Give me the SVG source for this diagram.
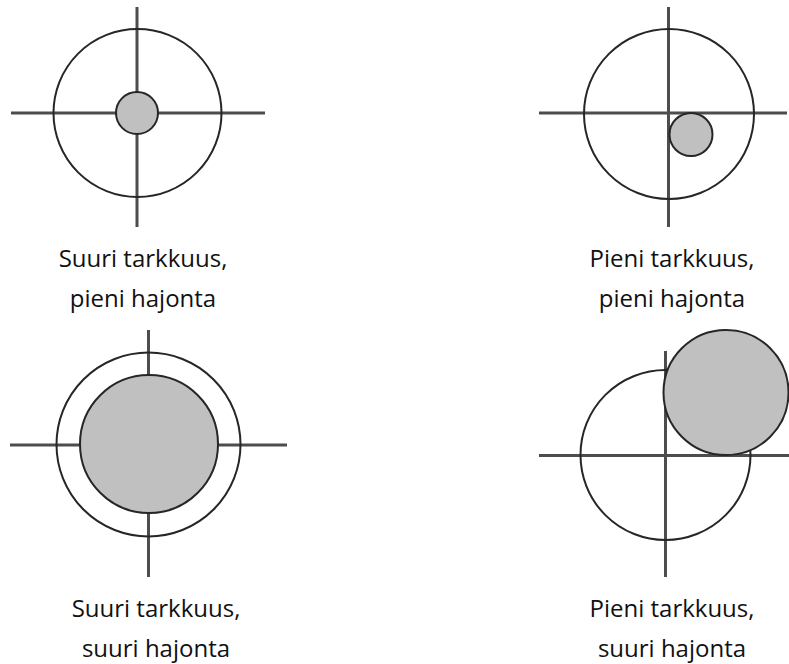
<svg xmlns="http://www.w3.org/2000/svg" width="789" height="664" viewBox="0 0 789 664">
<style>
.axis{stroke:#4d4d4d;stroke-width:3;fill:none}
.ring{stroke:#262626;stroke-width:2;fill:none}
.spot{stroke:#262626;stroke-width:2;fill:#c0c0c0}
.lbl{font-family:"Open Sans","Liberation Sans",sans-serif;font-size:24px;fill:#111;text-anchor:middle}
</style>
<rect width="789" height="664" fill="#fff"/>
<g id="target1">
<line class="axis" x1="137" y1="7" x2="137" y2="227"/>
<line class="axis" x1="11" y1="113" x2="265" y2="113"/>
<circle class="ring" cx="137.5" cy="113" r="84"/>
<circle class="spot" cx="137" cy="113" r="21"/>
<text class="lbl" x="143" y="267">Suuri tarkkuus,</text>
<text class="lbl" x="143" y="307">pieni hajonta</text>
</g>
<g id="target2">
<line class="axis" x1="668.5" y1="7" x2="668.5" y2="227"/>
<line class="axis" x1="539" y1="113" x2="787" y2="113"/>
<circle class="ring" cx="669" cy="114" r="85"/>
<circle class="spot" cx="691" cy="134.5" r="21.5"/>
<text class="lbl" x="672" y="267">Pieni tarkkuus,</text>
<text class="lbl" x="672" y="307">pieni hajonta</text>
</g>
<g id="target3">
<line class="axis" x1="148.5" y1="330" x2="148.5" y2="577"/>
<line class="axis" x1="10" y1="445" x2="287" y2="445"/>
<circle class="ring" cx="148.5" cy="444.5" r="92"/>
<circle class="spot" cx="149" cy="444" r="69"/>
<text class="lbl" x="156" y="617">Suuri tarkkuus,</text>
<text class="lbl" x="156" y="657">suuri hajonta</text>
</g>
<g id="target4">
<line class="axis" x1="665.5" y1="351" x2="665.5" y2="577"/>
<line class="axis" x1="539" y1="455.5" x2="789" y2="455.5"/>
<circle class="ring" cx="665.5" cy="455" r="85"/>
<circle class="spot" cx="726" cy="392.5" r="62.5"/>
<text class="lbl" x="672" y="617">Pieni tarkkuus,</text>
<text class="lbl" x="672" y="657">suuri hajonta</text>
</g>
</svg>
